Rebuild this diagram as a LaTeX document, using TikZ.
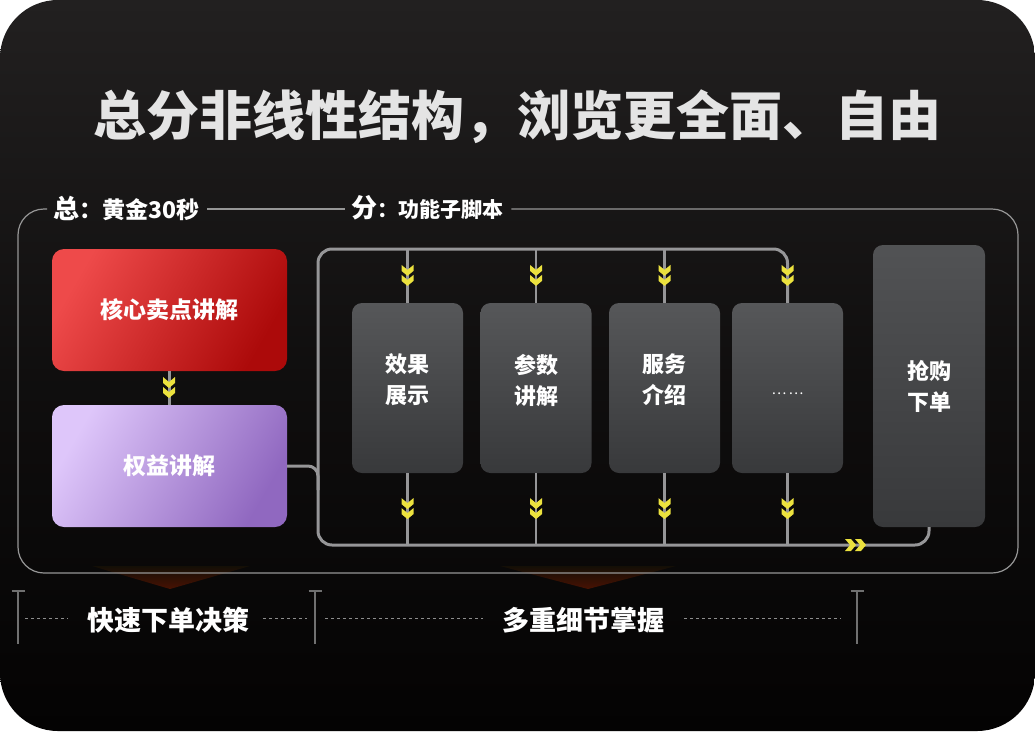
\documentclass[tikz,border=0pt]{standalone}
\usepackage{fontspec}
\setmainfont{Noto Sans CJK SC}
\usepackage{xcolor}
\usetikzlibrary{positioning, calc}

\definecolor{bgtop}{RGB}{34,32,32}
\definecolor{bgbot}{RGB}{4,3,3}
\definecolor{titlegray}{RGB}{228,228,228}
\definecolor{framegray}{RGB}{150,150,150}
\definecolor{loopgray}{RGB}{150,150,152}
\definecolor{redlight}{RGB}{238,74,74}
\definecolor{reddark}{RGB}{172,10,10}
\definecolor{purplelight}{RGB}{222,198,250}
\definecolor{purpledark}{RGB}{144,104,192}
\definecolor{coltop}{RGB}{86,87,89}
\definecolor{colbot}{RGB}{56,57,59}
\definecolor{chevyellow}{RGB}{236,226,62}
\definecolor{glowtop}{RGB}{20,15,6}
\definecolor{glowbot}{RGB}{72,18,3}
\definecolor{tbargray}{RGB}{112,112,112}

\tikzset{
    dblchev/.pic={
        \foreach \dy in {-10,0} {
            \fill[chevyellow] (-6,\dy-1) -- (0,\dy+4) -- (6,\dy-1) -- (6,\dy+5) -- (0,\dy+10) -- (-6,\dy+5) -- cycle;
        }
    }
}

\begin{document}
\begin{tikzpicture}[
    x=1pt, y=-1pt,
    hotbox/.style={rectangle, rounded corners=12pt, minimum width=235pt, minimum height=122pt, text=white, font=\fontsize{23}{23}\selectfont\bfseries},
    colbox/.style={rectangle, rounded corners=10pt, minimum width=111pt, minimum height=170pt, top color=coltop, bottom color=colbot, text=white, align=center, font=\fontsize{22}{31}\selectfont\bfseries},
    frame/.style={draw=framegray, line width=1.2pt},
    loopline/.style={draw=loopgray, line width=3pt},
    stub/.style={draw=loopgray, line width=2.4pt},
    tbar/.style={draw=tbargray, line width=1.6pt},
    dots/.style={draw=tbargray!80, line width=1pt, dash pattern=on 3pt off 3pt},
    seclabel/.style={text=white, inner sep=0pt, font=\fontsize{27}{27}\selectfont\bfseries}
]
    % Background
    \fill[white] (0,0) rectangle (1035,731);
    \useasboundingbox (0,0) rectangle (1035,731);
    \shade[top color=bgtop, bottom color=bgbot, middle color=bgbot!60!bgtop, rounded corners=58pt] (0,0) rectangle (1035,731);

    % Title
    \node[text=titlegray, font=\fontsize{53}{53}\selectfont\bfseries] (title) at (517,117) {总分非线性结构，浏览更全面、自由};

    % Glow under the frame
    \shade[top color=glowtop, bottom color=glowbot] (92,566) -- (250,566) -- (170,589) -- cycle;
    \shade[top color=glowtop, bottom color=glowbot] (500,566) -- (676,566) -- (588,589) -- cycle;

    % Frame labels
    \node[anchor=west, inner sep=0pt, text=white] (zong) at (53,208) {{\fontsize{26}{26}\selectfont\bfseries 总}{\fontsize{23}{23}\selectfont\bfseries ：黄金30秒}};
    \node[anchor=west, inner sep=0pt, text=white] (fen) at (351,208) {{\fontsize{26}{26}\selectfont\bfseries 分}{\fontsize{21}{21}\selectfont\bfseries ：功能子脚本}};

    % Frame
    \draw[frame, rounded corners=26pt] ([xshift=-6pt]zong.west |- 0,209) -| (18,573) -| (1018,209) -- ([xshift=8pt]fen.east |- 0,209);
    \draw[frame] ([xshift=8pt]zong.east |- 0,209) -- ([xshift=-6pt]fen.west |- 0,209);

    % Left nodes
    \node[hotbox, top color=redlight, bottom color=reddark, shading angle=60] (core) at (169.5,310) {核心卖点讲解};
    \node[hotbox, top color=purplelight, bottom color=purpledark, shading angle=60] (perk) at (169.5,466) {权益讲解};
    \draw[stub] (core.south) -- (perk.north);
    \pic at (169,388) {dblchev};

    % Columns
    \node[colbox, text depth=18pt] (effect) at (407.5,388) {效果\\展示};
    \node[colbox, text depth=18pt] (param) at (536,388) {参数\\讲解};
    \node[colbox, text depth=18pt] (service) at (664.5,388) {服务\\介绍};
    \node[colbox, font=\fontsize{14}{14}\selectfont, text height=12pt, text depth=0pt] (more) at (787.5,388) {…\,…};
    \node[colbox, minimum width=112pt, minimum height=282pt, top color=coltop!85!colbot, bottom color=colbot] (buy) at (929,386) {抢购\\下单};

    % Loop
    \coordinate (lt) at (318,249);
    \coordinate (lb) at (318,545);
    \draw[loopline, rounded corners=14pt] (more.north) -- (more.north |- lt) -- (lt) -- (lb) -- (buy.south |- lb) -- (buy.south);
    \draw[loopline, rounded corners=10pt] (perk.east) -- (perk.east -| lt) -- ([yshift=-24pt]perk.east -| lt);
    \foreach \b in {effect,param,service} {
        \draw[stub] (\b.north) -- (\b.north |- lt);
    }
    \foreach \b in {effect,param,service,more} {
        \draw[stub] (\b.south) -- (\b.south |- lb);
        \pic at ($(\b.north |- lt)!0.5!(\b.north)$) {dblchev};
        \pic at ($(\b.south)!0.5!(\b.south |- lb)$) {dblchev};
    }
    \pic[rotate=90] at (856,545) {dblchev};

    % Bottom brackets
    \foreach \x/\n in {18/m1, 315/m2, 857/m3} {
        \draw[tbar] (\x,591) -- (\x,644);
        \draw[tbar] (\x-6.5,591) -- (\x+6.5,591);
        \coordinate (\n) at (\x,618);
    }
    \node[seclabel] (fast) at (168,620) {快速下单决策};
    \node[seclabel] (detail) at (583,620) {多重细节掌握};
    \draw[dots] (25,618) -- ([xshift=-19pt]fast.west |- m1);
    \draw[dots] ([xshift=14pt]fast.east |- m2) -- ([xshift=-8pt]m2);
    \draw[dots] ([xshift=10pt]m2) -- ([xshift=-19pt]detail.west |- m2);
    \draw[dots] ([xshift=20pt]detail.east |- m3) -- ([xshift=-16pt]m3);
\end{tikzpicture}
\end{document}
